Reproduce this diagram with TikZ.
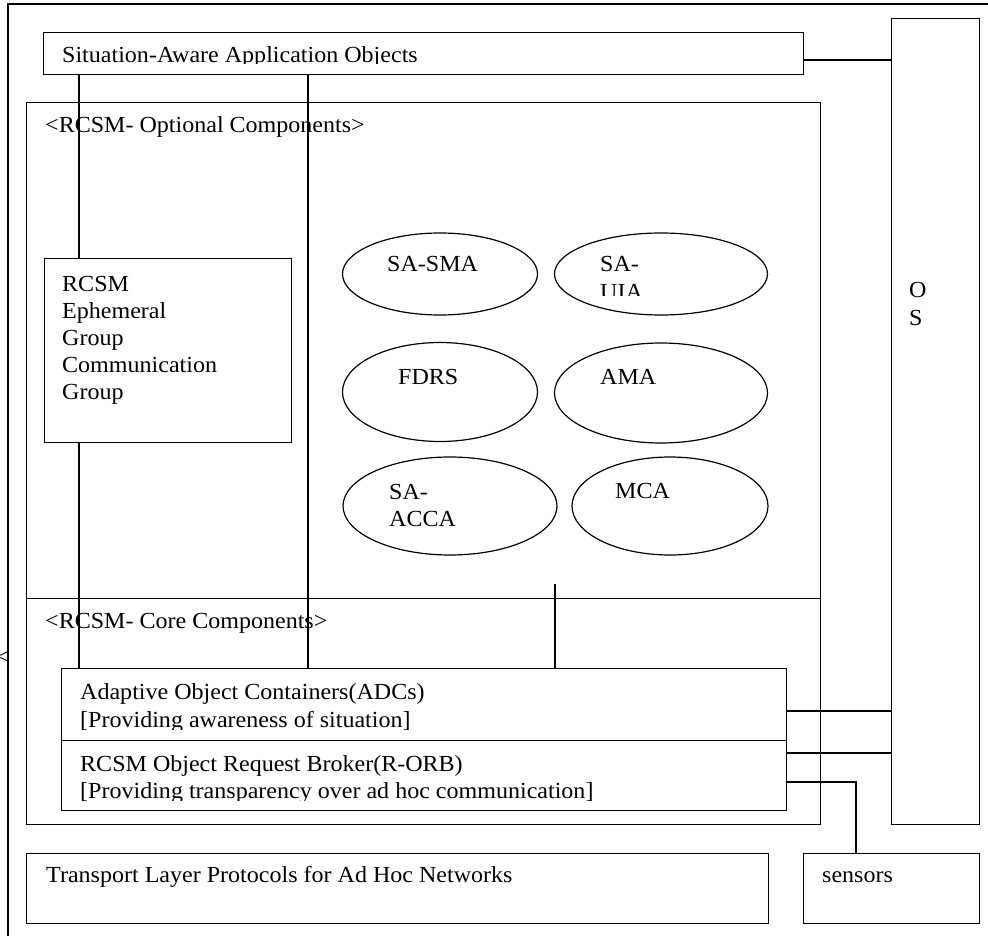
\documentclass[tikz,border=0pt]{standalone}
\usepackage{fontspec}
\setmainfont[FakeStretch=1.045]{Liberation Serif}
\usetikzlibrary{shapes.geometric}
\tikzset{
  box/.style={draw, rectangle, anchor=north west, inner sep=0pt, line width=1.2pt},
  oval/.style={draw, ellipse, inner sep=0pt, line width=1.2pt},
  lbl/.style={anchor=base west, inner sep=0pt, font=\fontsize{23}{27}\selectfont},
  wire/.style={line width=1.3pt}
}
\begin{document}
\begin{tikzpicture}[x=1pt,y=-1pt]
\useasboundingbox (0,0) rectangle (988,936);
% outer frame (cut by the picture's edges)
\draw[line width=1.2pt] (8,936) -- (8,4) -- (988,4);
\node[lbl] (lt) at (-4,664) {<};

% boxes
\node[box, minimum width=760pt, minimum height=42pt] (sa) at (43,32) {};
\node[box, minimum width=794pt, minimum height=496pt] (opt) at (26,102) {};
\node[box, minimum width=794pt, minimum height=226pt] (core) at (26,598) {};
\node[box, minimum width=247pt, minimum height=184pt] (eph) at (44,258) {};
\node[box, minimum width=725pt, minimum height=72pt] (adc) at (61,668) {};
\node[box, minimum width=725pt, minimum height=70pt] (orb) at (61,740) {};
\node[box, minimum width=88pt, minimum height=806pt] (os) at (891,18) {};
\node[box, minimum width=742pt, minimum height=70pt] (trans) at (26,853) {};
\node[box, minimum width=176pt, minimum height=70pt] (sens) at (803,853) {};

% ellipses
\node[oval, minimum width=195pt, minimum height=82pt] (sasma) at (440,274) {};
\node[oval, minimum width=213pt, minimum height=82pt] (sauia) at (661,274) {};
\node[oval, minimum width=195pt, minimum height=99pt] (fdrs) at (440,392) {};
\node[oval, minimum width=213pt, minimum height=100pt] (ama) at (661,393) {};
\node[oval, minimum width=214pt, minimum height=98pt] (saacca) at (450,506) {};
\node[oval, minimum width=196pt, minimum height=98pt] (mca) at (670,506) {};

% texts
\begin{scope}
\clip (43,32) rectangle (803,64);
\node[lbl] (tsa) at (62,63) {Situation-Aware Application Objects};
\end{scope}
\node[lbl] (topt) at (45,133) {<RCSM- Optional Components>};
\node[lbl] (tcore) at (45,628) {<RCSM- Core Components>};
\node[lbl] (te1) at (62,291) {RCSM};
\node[lbl] (te2) at (62,318) {Ephemeral};
\node[lbl] (te3) at (62,345) {Group};
\node[lbl] (te4) at (62,372) {Communication};
\node[lbl] (te5) at (62,399) {Group};
\node[lbl] (tadc1) at (80,699) {Adaptive Object Containers(ADCs)};
\begin{scope}
\clip (61,700) rectangle (786,729);
\node[lbl] (tadc2) at (80,727) {[Providing awareness of situation]};
\end{scope}
\node[lbl] (torb1) at (80,771) {RCSM Object Request Broker(R-ORB)};
\begin{scope}
\clip (61,772) rectangle (786,800);
\node[lbl] (torb2) at (80,798) {[Providing transparency over ad hoc communication]};
\end{scope}
\node[lbl] (ttrans) at (46,882) {Transport Layer Protocols for Ad Hoc Networks};
\node[lbl] (tsens) at (822,882) {sensors};
\node[lbl] (tos1) at (909,297) {O};
\node[lbl] (tos2) at (909,325) {S};
\node[lbl] (tsasma) at (387,272) {SA-SMA};
\node[lbl] (tsauia1) at (600,272) {SA-};
\begin{scope}
\clip (560,274) rectangle (760,295);
\node[lbl] (tsauia2) at (600,299) {UIA};
\end{scope}
\node[lbl] (tfdrs) at (398,384) {FDRS};
\node[lbl] (tama) at (600,384) {AMA};
\node[lbl] (tacca1) at (389,499) {SA-};
\node[lbl] (tacca2) at (389,526) {ACCA};
\node[lbl] (tmca) at (615,498) {MCA};

% connectors
\coordinate (c555) at (555,584);
\coordinate (knee) at (856,782);
\draw[wire] (sa.south -| 79,0) -- (eph.north -| 79,0);
\draw[wire] (eph.south -| 79,0) -- (adc.north -| 79,0);
\draw[wire] (sa.south -| 308,0) -- (adc.north -| 308,0);
\draw[wire] (c555) -- (adc.north -| c555);
\draw[wire] (sa.east |- 0,60) -- (os.west |- 0,60);
\draw[wire] (adc.east |- 0,711) -- (os.west |- 0,711);
\draw[wire] (orb.east |- 0,753) -- (os.west |- 0,753);
\draw[wire] (orb.east |- knee) -- (knee) -- (sens.north -| knee);
\end{tikzpicture}
\end{document}
